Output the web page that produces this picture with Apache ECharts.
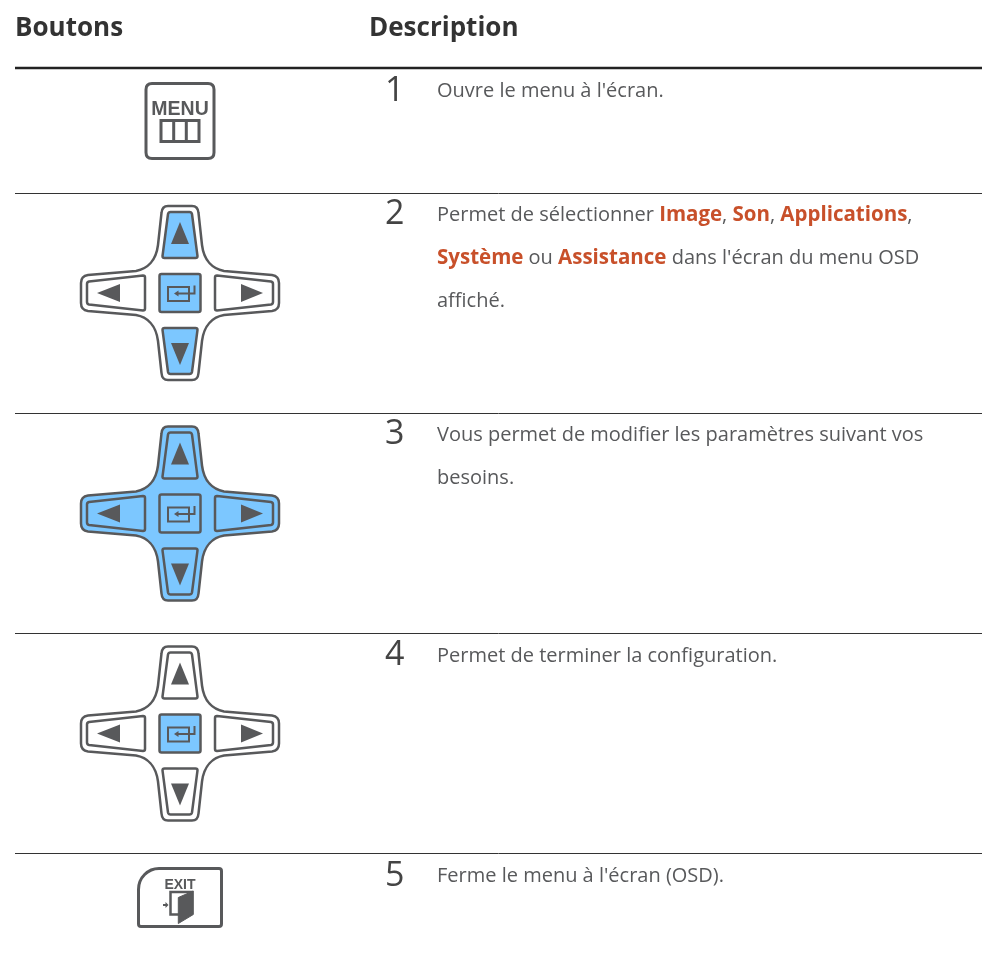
<!DOCTYPE html>
<html>
<head>
<meta charset="utf-8">
<style>
  html, body { margin: 0; padding: 0; background: #fff; }
  #main { width: 982px; height: 954px; }
</style>
<script src="https://cdn.jsdelivr.net/npm/echarts@6/dist/echarts.min.js"></script>
</head>
<body>
<div id="main"></div>
<script>
// 表头
const headers = ['Boutons', 'Description'];
// 序号
const rowNumbers = ['1', '2', '3', '4', '5'];
// 说明文字，{b|...} 是橙色粗体
const rowLines = [
    ["Ouvre le menu à l'écran."],
    ["Permet de sélectionner {b|Image}, {b|Son}, {b|Applications},",
     "{b|Système} ou {b|Assistance} dans l'écran du menu OSD",
     "affiché."],
    ["Vous permet de modifier les paramètres suivant vos",
     "besoins."],
    ["Permet de terminer la configuration."],
    ["Ferme le menu à l'écran (OSD)."]
];
// 图标种类与高亮按钮
const rowIcons = ['menu', 'cross', 'cross', 'cross', 'exit'];
const rowHighlights = [
    [],
    ['up', 'center', 'down'],
    ['body', 'up', 'left', 'center', 'right', 'down'],
    ['center'],
    []
];

const GREY = '#58595b';
const BLUE = '#7cc7ff';
const FONT = '"Open Sans", "Noto Sans", sans-serif';

// 十字键外形与按钮路径，以十字中心为原点
const crossBody = 'M-12 -87L12 -87Q18 -87 18.5 -80L22 -48C24 -32 33 -24 44 -22L92 -18Q99 -17 99 -10L99 10Q99 17 92 18L44 22C33 24 24 32 22 48L18.5 80Q18 87 12 87L-12 87Q-18 87 -18.5 80L-22 48C-24 32 -33 24 -44 22L-92 18Q-99 17 -99 10L-99 -10Q-99 -17 -92 -18L-44 -22C-33 -24 -24 -32 -22 -48L-18.5 -80Q-18 -87 -12 -87Z';
const crossButtons = {
    up: 'M-9.5 -81L9.5 -81Q11.5 -81 12 -79L17.5 -37Q17.5 -35 15.5 -35L-15.5 -35Q-17.5 -35 -17.5 -37L-12 -79Q-11.5 -81 -9.5 -81Z',
    down: 'M-15.5 35L15.5 35Q17.5 35 17.5 37L12 79Q11.5 81 9.5 81L-9.5 81Q-11.5 81 -12 79L-17.5 37Q-17.5 35 -15.5 35Z',
    left: 'M-91 -11.5L-37 -17.5Q-35 -17.5 -35 -15.5L-35 15.5Q-35 17.5 -37 17.5L-91 11.5Q-93 11 -93 9L-93 -9Q-93 -11 -91 -11.5Z',
    right: 'M37 -17.5L91 -11.5Q93 -11 93 -9L93 9Q93 11 91 11.5L37 17.5Q35 17.5 35 15.5L35 -15.5Q35 -17.5 37 -17.5Z',
    center: 'M-18.5 -19L18.5 -19Q20.5 -19 20.5 -17L20.5 17Q20.5 19 18.5 19L-18.5 19Q-20.5 19 -20.5 17L-20.5 -17Q-20.5 -19 -18.5 -19Z'
};
const crossArrows = [
    'M0 -71L9 -49L-9 -49Z',
    'M0 72L9 50L-9 50Z',
    'M-83 0L-60 -9L-60 9Z',
    'M83 0L61 -9L61 9Z'
];
// 中间回车符号
const enterRect = 'M9 3L9 -6L-12 -6L-12 8L9 8L9 3';
const enterLine = 'M-3 0.5L14.5 0.5L14.5 -7.5';
const enterHead = 'M-6 0.5L-1.5 -2.5L-1.5 3.5Z';

function shapePath(d, fill, stroke, lineWidth) {
    return {
        type: 'path',
        shape: { pathData: d },
        style: { fill: fill, stroke: stroke, lineWidth: lineWidth },
        silent: true
    };
}

function drawCross(lit) {
    const fillFor = key => lit.indexOf(key) >= 0 ? BLUE : '#fff';
    const children = [shapePath(crossBody, fillFor('body'), GREY, 2.5)];
    Object.keys(crossButtons).forEach(key => {
        children.push(shapePath(crossButtons[key], fillFor(key), GREY, 2.5));
    });
    crossArrows.forEach(d => children.push(shapePath(d, GREY, null, 0)));
    children.push(shapePath(enterRect, 'none', GREY, 2));
    children.push(shapePath(enterLine, 'none', GREY, 2));
    children.push(shapePath(enterHead, GREY, null, 0));
    return children;
}

function drawMenu() {
    return [
        shapePath('M-28 -37.5L28 -37.5Q34 -37.5 34 -31.5L34 31.5Q34 37.5 28 37.5L-28 37.5Q-34 37.5 -34 31.5L-34 -31.5Q-34 -37.5 -28 -37.5Z', '#fff', GREY, 3),
        {
            type: 'text',
            silent: true,
            style: {
                text: 'MENU', x: 0, y: -11.5, fill: GREY,
                font: 'bold 19.5px "Liberation Sans", Arial, sans-serif',
                textAlign: 'center', textVerticalAlign: 'middle'
            }
        },
        shapePath('M-19 -0.5L19 -0.5L19 20.5L-19 20.5ZM-6.3 -0.5L-6.3 20.5M6.3 -0.5L6.3 20.5', 'none', GREY, 3)
    ];
}

function drawExit() {
    return [
        shapePath('M-21 -29L39 -29Q41.5 -29 41.5 -26.5L41.5 26.5Q41.5 29 39 29L-39 29Q-41.5 29 -41.5 26.5L-41.5 -8C-41.5 -20 -32 -29 -21 -29Z', '#fff', GREY, 3),
        {
            type: 'text',
            silent: true,
            style: {
                text: 'EXIT', x: 0, y: -12, fill: GREY,
                font: 'bold 14px "Liberation Sans", Arial, sans-serif',
                textAlign: 'center', textVerticalAlign: 'middle'
            }
        },
        shapePath('M-1 17L-9.5 17L-9.5 -5.5L13 -5.5', 'none', GREY, 2.5),
        shapePath('M13.3 -6.5L-1.7 0L-1.7 26L13.3 17Z', GREY, GREY, 1),
        shapePath('M-17 7.5L-14 7.5', 'none', GREY, 2),
        shapePath('M-14.5 4.5L-11.5 7.5L-14.5 10.5Z', GREY, null, 0)
    ];
}

const ICON_CENTER_X = 180;
const iconCenterY = [121, 293, 513.5, 733.5, 897.5];

function renderIcon(params) {
    const i = params.dataIndex;
    const kind = rowIcons[i];
    let children;
    if (kind === 'menu') children = drawMenu();
    else if (kind === 'exit') children = drawExit();
    else children = drawCross(rowHighlights[i]);
    return { type: 'group', x: ICON_CENTER_X, y: iconCenterY[i], silent: true, children: children };
}

// 表格线和文字放在 graphic 里
const ruleY = [193, 413, 633, 853];
const numberY = [91, 214, 434, 655, 876];
const firstLineY = [91, 215, 435, 656, 876];
const LINE_GAP = 43;

const elements = [];
elements.push({
    type: 'text', silent: true,
    style: { text: headers[0], x: 15, y: 29, fill: '#333', font: '700 26px ' + FONT, textVerticalAlign: 'middle' }
});
elements.push({
    type: 'text', silent: true,
    style: { text: headers[1], x: 369, y: 29, fill: '#333', font: '700 26px ' + FONT, textVerticalAlign: 'middle' }
});
elements.push({
    type: 'line', silent: true,
    shape: { x1: 15, y1: 68, x2: 982, y2: 68 },
    style: { stroke: '#222', lineWidth: 2.5 }
});
ruleY.forEach(y => {
    elements.push({
        type: 'line', silent: true,
        shape: { x1: 15, y1: y + 0.5, x2: 982, y2: y + 0.5 },
        style: { stroke: '#333', lineWidth: 1 }
    });
});
rowNumbers.forEach((n, i) => {
    elements.push({
        type: 'text', silent: true,
        style: { text: n, x: 385, y: numberY[i], fill: '#444', font: '34px ' + FONT, textVerticalAlign: 'middle' }
    });
    rowLines[i].forEach((line, j) => {
        elements.push({
            type: 'text', silent: true,
            style: {
                text: line,
                x: 437,
                y: firstLineY[i] + j * LINE_GAP,
                fill: '#58595b',
                fontFamily: FONT,
                fontSize: 20,
                verticalAlign: 'middle',
                rich: {
                    b: { fill: '#c8502a', fontFamily: FONT, fontSize: 20.5, fontWeight: 700 }
                }
            }
        });
    });
});

const chart = echarts.init(document.getElementById('main'));
chart.setOption({
    animation: false,
    backgroundColor: '#fff',
    graphic: { elements: elements },
    series: [{
        type: 'custom',
        coordinateSystem: 'none',
        silent: true,
        data: rowNumbers,
        renderItem: renderIcon
    }]
});
</script>
</body>
</html>
